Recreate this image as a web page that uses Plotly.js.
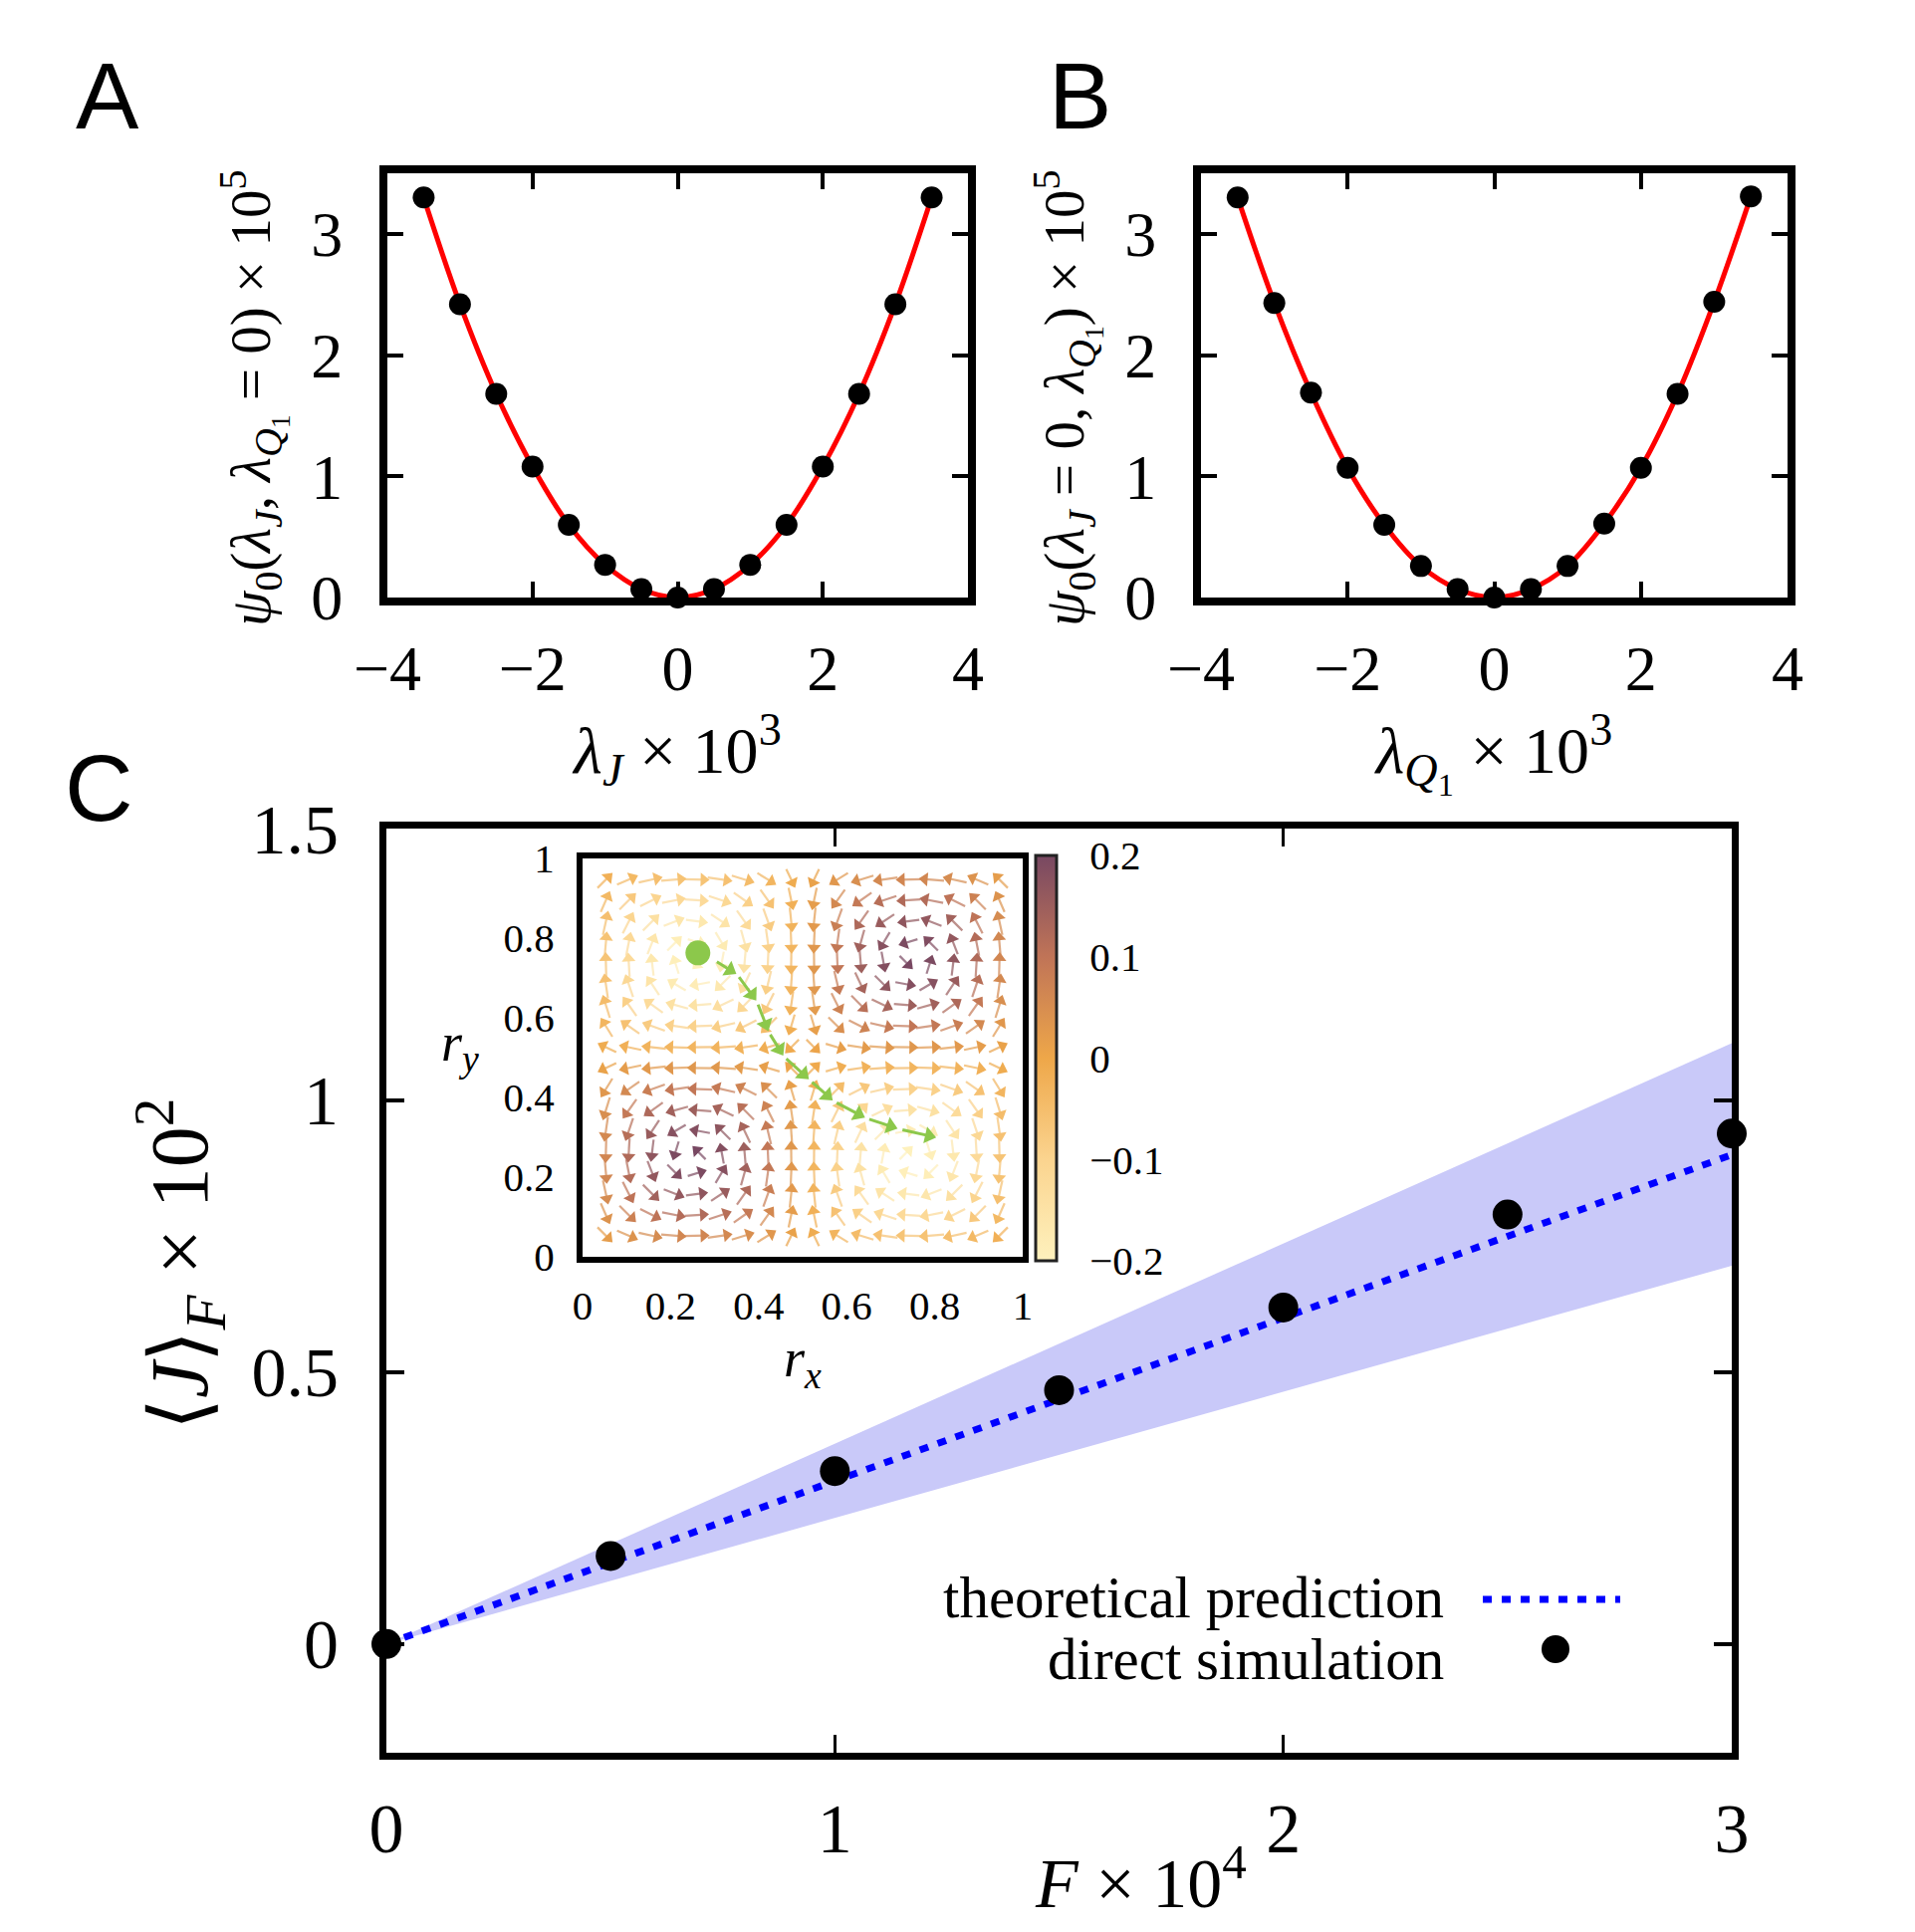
<!DOCTYPE html>
<html>
<head>
<meta charset="utf-8">
<script src="https://cdn.plot.ly/plotly-3.0.1.min.js"></script>
<style>html,body{margin:0;padding:0;background:#fff;}#chart{width:1923px;height:1940px;}</style>
</head>
<body>
<div id="chart"></div>
<script>
// ---------- Data: panels A and B ----------
const lambdaJ = [-3.5,-3,-2.5,-2,-1.5,-1,-0.5,0,0.5,1,1.5,2,2.5,3,3.5];
const psiA    = [3.30,2.42,1.68,1.08,0.60,0.27,0.07,0.00,0.07,0.27,0.60,1.08,1.68,2.42,3.30];
const lambdaQ = [-3.5,-3,-2.5,-2,-1.5,-1,-0.5,0,0.5,1,1.5,2,2.5,3,3.5];
const psiB    = [3.30,2.43,1.69,1.07,0.60,0.26,0.07,0.00,0.07,0.26,0.61,1.07,1.68,2.44,3.31];

// ---------- Data: panel C ----------
const forceF    = [0,0.5,1,1.5,2,2.5,3];
const simJ      = [0,0.162,0.318,0.467,0.619,0.790,0.939];
const theoryJ   = [0,0.15,0.30,0.45,0.60,0.75,0.90];
const bandUpper = [0,0.184,0.368,0.553,0.737,0.921,1.105];
const bandLower = [0,0.116,0.232,0.348,0.464,0.580,0.696];

// ---------- Data: inset flow field ----------
const fieldPos    = [0.053,0.105,0.158,0.211,0.263,0.316,0.368,0.421,0.474,0.526,0.579,0.632,0.684,0.737,0.789,0.842,0.895,0.947];
const psiProfile  = [0.32,0.61,0.84,0.97,1.00,0.92,0.74,0.48,0.16,-0.16,-0.48,-0.74,-0.92,-1.00,-0.97,-0.84,-0.61,-0.32];
const flowProfile = [0.95,0.79,0.55,0.25,-0.08,-0.40,-0.68,-0.88,-0.99,-0.99,-0.88,-0.68,-0.40,-0.08,0.25,0.55,0.79,0.95];
const psiAmplitude = 0.2;
const trajX = [0.262,0.300,0.351,0.396,0.423,0.457,0.516,0.570,0.644,0.718,0.806];
const trajY = [0.763,0.744,0.709,0.641,0.564,0.503,0.444,0.391,0.348,0.321,0.299];
const cbTicks = [-0.2,-0.1,0,0.1,0.2];

// ---------- Styles ----------
const W = 1923, H = 1940;
const serif = 'Liberation Serif';
const colorscale = [[0,'#fef1bd'],[0.25,'#fbd48f'],[0.5,'#eea749'],[0.75,'#c07457'],[1,'#784862']];
const px = v => v / W, py = v => 1 - v / H;
const insetL = 585, insetR = 1027, insetT = 862, insetB = 1262;
const insetWpx = insetR - insetL, insetHpx = insetB - insetT;

function frameAxis(extra){
  return Object.assign({
    showline:true, linecolor:'#000', mirror:'ticks', ticks:'inside',
    showgrid:false, zeroline:false, color:'#000',
    tickfont:{family:serif, size:64, color:'#000'}
  }, extra);
}

// ---------- Traces ----------
const traces = [];
// Panel A
traces.push({x:lambdaJ, y:psiA, xaxis:'x', yaxis:'y', mode:'lines', line:{color:'#ff0000', width:5, shape:'spline'}, showlegend:false, hoverinfo:'skip'});
traces.push({x:lambdaJ, y:psiA, xaxis:'x', yaxis:'y', mode:'markers', marker:{color:'#000', size:22}, cliponaxis:false, showlegend:false});
// Panel B
traces.push({x:lambdaQ, y:psiB, xaxis:'x2', yaxis:'y2', mode:'lines', line:{color:'#ff0000', width:5, shape:'spline'}, showlegend:false, hoverinfo:'skip'});
traces.push({x:lambdaQ, y:psiB, xaxis:'x2', yaxis:'y2', mode:'markers', marker:{color:'#000', size:22}, cliponaxis:false, showlegend:false});
// Panel C
traces.push({x:forceF, y:bandLower, xaxis:'x3', yaxis:'y3', mode:'lines', line:{width:0, color:'rgba(0,0,0,0)'}, showlegend:false, hoverinfo:'skip'});
traces.push({x:forceF, y:bandUpper, xaxis:'x3', yaxis:'y3', mode:'lines', line:{width:0, color:'rgba(0,0,0,0)'}, fill:'tonexty', fillcolor:'#c9c9f9', showlegend:false, hoverinfo:'skip'});
traces.push({x:forceF, y:theoryJ, xaxis:'x3', yaxis:'y3', mode:'lines', name:'theoretical prediction', line:{color:'#0000ff', width:7, dash:'9px,10px'}, showlegend:false});
traces.push({x:forceF, y:simJ, xaxis:'x3', yaxis:'y3', mode:'markers', name:'direct simulation', marker:{color:'#000', size:30}, cliponaxis:false, showlegend:false});

// Inset field: shafts (rotated line markers) and heads (triangle markers)
const shaftX = [], shaftY = [], shaftAng = [], shaftLen = [], headX = [], headY = [], headAng = [], fieldPsi = [];
const spPx = (fieldPos[1] - fieldPos[0]) * insetWpx;
const headSize = 12;              // triangle-up: apex r above centre, base r/2 below (r = size/2)
const hr = headSize / 2;
for (let i = 0; i < fieldPos.length; i++) {
  for (let j = 0; j < fieldPos.length; j++) {
    const x = fieldPos[i], y = fieldPos[j];
    const psi = psiAmplitude * psiProfile[i] * psiProfile[j];
    const u = psiProfile[i] * flowProfile[j];
    const v = -flowProfile[i] * psiProfile[j];
    const m = Math.sqrt(u*u + v*v);
    if (m < 1e-6) continue;
    const ux = u / m, uy = v / m;
    const L = spPx * (0.7 + 0.3 * Math.min(1, m));
    const hc = L / 2 - hr;          // head centre offset so apex sits at the tip
    headX.push(x + ux * hc / insetWpx);
    headY.push(y + uy * hc / insetHpx);
    headAng.push(Math.atan2(ux, uy) * 180 / Math.PI);
    const sEnd = L / 2 - 1.2 * hr;  // shaft ends inside the head
    const sLen = sEnd + L / 2;
    const sc = (sEnd - L / 2) / 2;
    shaftX.push(x + ux * sc / insetWpx);
    shaftY.push(y + uy * sc / insetHpx);
    shaftAng.push(-Math.atan2(uy, ux) * 180 / Math.PI);
    shaftLen.push(sLen);
    fieldPsi.push(psi);
  }
}
traces.push({x:shaftX, y:shaftY, xaxis:'x4', yaxis:'y4', mode:'markers', hoverinfo:'skip', showlegend:false,
  marker:{symbol:'line-ew', size:shaftLen, angle:shaftAng,
    line:{width:2.2, color:fieldPsi, cmin:-0.2, cmax:0.2, colorscale:colorscale}}});
traces.push({x:headX, y:headY, xaxis:'x4', yaxis:'y4', mode:'markers', hoverinfo:'skip', showlegend:false,
  marker:{symbol:'triangle-up', size:headSize, angle:headAng, line:{width:0},
    color:fieldPsi, cmin:-0.2, cmax:0.2, colorscale:colorscale, showscale:true,
    colorbar:{x:px(1040), xanchor:'left', xref:'paper', xpad:0, y:py(1062.5), yanchor:'middle', yref:'paper', ypad:0,
      len:407, lenmode:'pixels', thickness:21, outlinewidth:3, outlinecolor:'#222',
      tickvals:cbTicks, ticks:'outside', ticklen:24, tickcolor:'rgba(0,0,0,0)',
      tickfont:{family:serif, size:41, color:'#000'}}}});

// Trajectory: green dot and dashed arrow segments
traces.push({x:[trajX[0]], y:[trajY[0]], xaxis:'x4', yaxis:'y4', mode:'markers', marker:{color:'#8cc84b', size:25}, showlegend:false, hoverinfo:'skip'});
const tX = [], tY = [], gX = [], gY = [], gA = [];
const gHead = 15, gr = gHead / 2;
for (let k = 1; k < trajX.length - 1; k++) {
  const dx = trajX[k+1] - trajX[k], dy = trajY[k+1] - trajY[k];
  const dpx = dx * insetWpx, dpy = dy * insetHpx, dl = Math.sqrt(dpx*dpx + dpy*dpy);
  const ex = dpx / dl, ey = dpy / dl;
  const tipX = trajX[k+1] - 0.03*dx, tipY = trajY[k+1] - 0.03*dy;
  tX.push(trajX[k] + 0.1*dx, tipX - ex * 1.2 * gr / insetWpx, null);
  tY.push(trajY[k] + 0.1*dy, tipY - ey * 1.2 * gr / insetHpx, null);
  gX.push(tipX - ex * gr / insetWpx);
  gY.push(tipY - ey * gr / insetHpx);
  gA.push(Math.atan2(ex, ey) * 180 / Math.PI);
}
traces.push({x:tX, y:tY, xaxis:'x4', yaxis:'y4', mode:'lines', connectgaps:false, showlegend:false, hoverinfo:'skip',
  line:{color:'#8cc84b', width:3}});
traces.push({x:gX, y:gY, xaxis:'x4', yaxis:'y4', mode:'markers', showlegend:false, hoverinfo:'skip',
  marker:{symbol:'triangle-up', angle:gA, size:gHead, color:'#8cc84b', line:{width:0}}});

// ---------- Annotations ----------
const annotations = [];
annotations.push({xref:'paper', yref:'paper', x:px(254), y:py(400), textangle:-90,
  text:'<i>ψ</i><sub>0</sub>(<i>λ</i><sub><i>J</i></sub>, <i>λ</i><sub><i>Q</i><sub>1</sub></sub> = 0) × 10<sup>5</sup>', showarrow:false,
  font:{family:serif, size:57, color:'#000'}, xanchor:'center', yanchor:'middle'});
annotations.push({xref:'paper', yref:'paper', x:px(1071), y:py(400), textangle:-90,
  text:'<i>ψ</i><sub>0</sub>(<i>λ</i><sub><i>J</i></sub> = 0, <i>λ</i><sub><i>Q</i><sub>1</sub></sub>) × 10<sup>5</sup>', showarrow:false,
  font:{family:serif, size:57, color:'#000'}, xanchor:'center', yanchor:'middle'});
annotations.push({xref:'paper', yref:'paper', x:px(462), y:py(1050), text:'<i>r</i><sub><i>y</i></sub>', showarrow:false,
  font:{family:serif, size:54, color:'#000'}, xanchor:'center', yanchor:'middle'});
annotations.push({xref:'paper', yref:'paper', x:px(1145), y:py(1886), text:'<i>F</i> × 10<sup>4</sup>', showarrow:false,
  font:{family:serif, size:70, color:'#000'}, xanchor:'center', yanchor:'middle', borderpad:0});
annotations.push({xref:'paper', yref:'paper', x:px(180), y:py(1270), text:'⟨<i>J</i>⟩<sub><i>F</i></sub> × 10<sup>2</sup>', showarrow:false,
  textangle:-90, font:{family:serif, size:82, color:'#000'}, xanchor:'center', yanchor:'middle'});
const letters = [['A',108,96],['B',1084,96],['C',99,791]];
letters.forEach(l => annotations.push({xref:'paper', yref:'paper', x:px(l[1]), y:py(l[2]), text:l[0], showarrow:false,
  font:{family:'Liberation Sans', size:95, color:'#000'}, xanchor:'center', yanchor:'middle'}));
annotations.push({xref:'paper', yref:'paper', x:px(1451), y:py(1604), text:'theoretical prediction', showarrow:false,
  font:{family:serif, size:59, color:'#000'}, xanchor:'right', yanchor:'middle', borderpad:0});
annotations.push({xref:'paper', yref:'paper', x:px(1451), y:py(1666), text:'direct simulation', showarrow:false,
  font:{family:serif, size:59, color:'#000'}, xanchor:'right', yanchor:'middle', borderpad:0});
const shapes = [
  {type:'line', xref:'paper', yref:'paper', x0:px(1489), x1:px(1627), y0:py(1606), y1:py(1606), line:{color:'#0000ff', width:7, dash:'9px,10px'}},
  {type:'circle', xref:'paper', yref:'paper', xsizemode:'pixel', ysizemode:'pixel', xanchor:px(1562), yanchor:py(1656),
    x0:-14, x1:14, y0:-14, y1:14, fillcolor:'#000', line:{width:0}}
];

const layout = {
  width:W, height:H, margin:{l:0,r:0,t:0,b:0}, paper_bgcolor:'#fff', plot_bgcolor:'#fff',
  showlegend:false, font:{family:serif, color:'#000'},
  xaxis: frameAxis({domain:[px(389),px(972)], range:[-4,4], dtick:2, tick0:0, linewidth:8, ticklen:16, tickwidth:4, ticklabelstandoff:8,
    title:{text:'<i>λ</i><sub><i>J</i></sub> × 10<sup>3</sup>', font:{family:serif, size:66}, standoff:0}, anchor:'y'}),
  yaxis: frameAxis({domain:[py(600),py(174)], range:[0,3.5], dtick:1, tick0:0, linewidth:8, ticklen:16, tickwidth:4, ticklabelstandoff:24, anchor:'x'}),
  xaxis2: frameAxis({domain:[px(1206),px(1795)], range:[-4,4], dtick:2, tick0:0, linewidth:8, ticklen:16, tickwidth:4, ticklabelstandoff:8,
    title:{text:'<i>λ</i><sub><i>Q</i><sub>1</sub></sub> × 10<sup>3</sup>', font:{family:serif, size:66}, standoff:0}, anchor:'y2'}),
  yaxis2: frameAxis({domain:[py(600),py(174)], range:[0,3.5], dtick:1, tick0:0, linewidth:8, ticklen:16, tickwidth:4, ticklabelstandoff:24, anchor:'x2'}),
  xaxis3: frameAxis({domain:[px(388),px(1739)], range:[0,3], dtick:1, tick0:0, linewidth:7, ticklen:18, tickwidth:3.5, ticklabelstandoff:9,
    tickfont:{family:serif, size:70, color:'#000'}, anchor:'y3'}),
  yaxis3: frameAxis({domain:[py(1760),py(832)], range:[-0.2,1.5], dtick:0.5, tick0:0, linewidth:7, ticklen:18, tickwidth:3.5, ticklabelstandoff:27,
    tickfont:{family:serif, size:70, color:'#000'}, anchor:'x3'}),
  xaxis4: {domain:[px(insetL),px(insetR)], range:[0,1], dtick:0.2, tick0:0, showline:true, mirror:true, linewidth:6, linecolor:'#000',
    ticks:'', showgrid:false, zeroline:false, ticklabelstandoff:8, tickfont:{family:serif, size:41, color:'#000'},
    title:{text:'<i>r</i><sub><i>x</i></sub>', font:{family:serif, size:54}, standoff:8}, anchor:'y4'},
  yaxis4: {domain:[py(insetB),py(insetT)], range:[0,1], dtick:0.2, tick0:0, showline:true, mirror:true, linewidth:6, linecolor:'#000',
    ticks:'', showgrid:false, zeroline:false, ticklabelstandoff:14, tickfont:{family:serif, size:41, color:'#000'}, anchor:'x4'},
  annotations: annotations, shapes: shapes
};

Plotly.newPlot('chart', traces, layout, {staticPlot:true, displayModeBar:false});
</script>
</body>
</html>
